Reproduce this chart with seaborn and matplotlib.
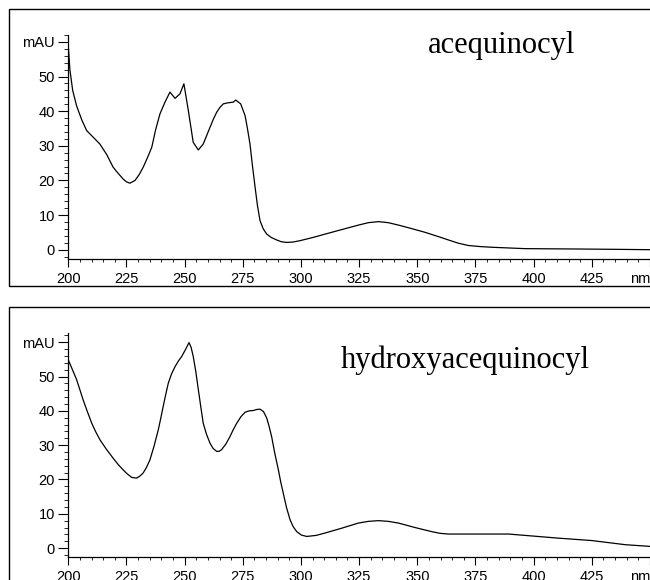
import matplotlib
matplotlib.use("Agg")
import matplotlib.pyplot as plt
import seaborn as sns
from matplotlib.patches import Rectangle
from matplotlib.ticker import MultipleLocator

# ---- data ----
wl_a = [200, 200.7, 201.9, 203.6, 205.8, 207.9, 213.6, 216.5, 219.3, 221.5, 223.6, 225.0,
        226.5, 228.7, 230.5, 232.2, 234.0, 235.9, 237.5, 239.4, 241.5, 243.7, 245.9, 248.0,
        249.7, 251.6, 253.7, 255.9, 258.0, 260.9, 262.3, 263.8, 265.2, 266.6, 268.5, 270.9,
        272.0, 274.1, 276.0, 277.0, 278.1, 279.2, 280.3, 281.3, 282.4, 283.8, 285.3, 287.3,
        289.6, 291.5, 293.9, 296.5, 299.6, 305.0, 310.4, 317.5, 324.7, 329.0, 333.3, 337.5,
        341.9, 347.5, 353.4, 358.5, 363.4, 367.5, 372.0, 377.0, 382.0, 396.3, 417.8, 435.0,
        450.0]
abs_a = [59.0, 52.0, 46.0, 41.5, 37.5, 34.4, 30.5, 27.5, 23.8, 22.0, 20.4, 19.6,
         19.2, 20.0, 21.7, 23.8, 26.5, 29.6, 34.5, 39.2, 42.5, 45.5, 43.7, 45.0,
         47.9, 40.2, 31.0, 28.8, 30.5, 35.3, 37.6, 39.7, 41.1, 42.1, 42.4, 42.6,
         43.2, 42.1, 38.7, 35.0, 30.5, 24.0, 18.0, 12.8, 8.4, 6.0, 4.5, 3.5,
         2.8, 2.3, 2.1, 2.2, 2.6, 3.5, 4.5, 5.8, 7.1, 7.8, 8.1, 7.8,
         7.1, 6.1, 5.0, 3.9, 2.8, 1.9, 1.2, 0.9, 0.7, 0.3, 0.2, 0.1,
         0.0]

wl_h = [200, 201.8, 203.6, 206.4, 208.2, 210.1, 211.8, 213.6, 216.4, 219.3, 221.4, 223.6,
        225.4, 227.3, 229.4, 230.8, 232.2, 233.6, 235.1, 236.9, 238.7, 239.8, 240.8, 241.9,
        243.0, 244.4, 245.9, 247.3, 248.8, 250.4, 251.9, 252.8, 253.7, 254.8, 255.9, 257.0,
        258.0, 259.4, 260.9, 262.3, 263.8, 264.8, 265.9, 267.7, 269.5, 270.9, 272.4, 274.2,
        276.0, 277.7, 279.5, 281.0, 282.4, 283.9, 285.3, 286.3, 287.4, 288.8, 290.3, 291.3,
        292.4, 293.8, 295.3, 296.7, 298.2, 300.2, 302.5, 306.5, 310.4, 317.5, 324.7, 329.0,
        333.3, 337.5, 341.9, 349.0, 356.2, 359.8, 363.4, 389.2, 410.7, 425.0, 439.3, 450.0]
abs_h = [54.9, 52.0, 49.1, 43.2, 39.8, 36.4, 33.9, 31.6, 28.8, 26.2, 24.4, 22.8,
         21.6, 20.6, 20.4, 21.0, 21.9, 23.5, 25.7, 29.8, 34.5, 38.0, 41.3, 44.8,
         48.1, 50.8, 52.9, 54.5, 55.9, 57.9, 59.9, 58.5, 55.9, 51.5, 46.2, 41.0,
         36.4, 33.2, 30.6, 29.0, 28.2, 28.2, 28.7, 30.3, 32.5, 34.5, 36.4, 38.3,
         39.6, 40.0, 40.1, 40.4, 40.5, 39.8, 37.9, 35.5, 32.5, 27.5, 22.8, 19.3,
         16.0, 11.8, 8.3, 6.2, 4.8, 3.8, 3.4, 3.7, 4.4, 5.8, 7.3, 7.8,
         8.0, 7.8, 7.3, 6.0, 4.8, 4.3, 4.1, 4.1, 2.9, 2.2, 1.0, 0.5]

x_ticks = [200, 225, 250, 275, 300, 325, 350, 375, 400, 425, 450]
x_labels = ["200", "225", "250", "275", "300", "325", "350", "375", "400", "425", "nm"]
y_ticks = [0, 10, 20, 30, 40, 50, 60]
y_labels = ["0", "10", "20", "30", "40", "50", "mAU"]
names = ["acequinocyl", "hydroxyacequinocyl"]

# ---- style ----
sns.set_style("ticks")
plt.rcParams["font.family"] = ["Liberation Sans", "DejaVu Sans"]

fig = plt.figure(figsize=(6.5, 5.8), dpi=100)

# panel frames
fig.patches.append(Rectangle((0.0143, 0.5069), 1.2, 0.984 - 0.5069, transform=fig.transFigure,
                             fill=False, edgecolor="black", linewidth=1.0))
fig.patches.append(Rectangle((0.0143, -0.2), 1.2, 0.4712 + 0.2, transform=fig.transFigure,
                             fill=False, edgecolor="black", linewidth=1.0))

ax1 = fig.add_axes([0.105, 0.5534, 0.895, 0.3863])
ax2 = fig.add_axes([0.105, 0.0402, 0.895, 0.3851])

panels = [(ax1, wl_a, abs_a, (-2.7, 62.0), 386, 0.92),
          (ax2, wl_h, abs_h, (-2.5, 62.6), 370.5, 0.845)]

for (ax, xs, ys, ylim, tx, ty), name in zip(panels, names):
    sns.lineplot(x=xs, y=ys, ax=ax, color="black", linewidth=0.9, sort=False)
    ax.set_xlim(200, 450)
    ax.set_ylim(*ylim)
    ax.set_facecolor("none")
    sns.despine(ax=ax)
    for s in ("left", "bottom"):
        ax.spines[s].set_linewidth(0.9)
        ax.spines[s].set_color("black")
    ax.set_xticks(x_ticks)
    ax.set_xticklabels(x_labels)
    ax.set_yticks(y_ticks)
    ax.set_yticklabels(y_labels)
    ax.xaxis.set_minor_locator(MultipleLocator(5))
    ax.yaxis.set_minor_locator(MultipleLocator(2))
    ax.tick_params(axis="x", which="major", direction="out", length=5.5, width=0.8,
                   labelsize=10.5, pad=4, colors="black")
    ax.tick_params(axis="x", which="minor", direction="out", length=2.5, width=0.7)
    ax.tick_params(axis="y", which="major", direction="out", length=7, width=0.8,
                   labelsize=10.5, pad=2.5, colors="black")
    ax.tick_params(axis="y", which="minor", direction="out", length=3, width=0.7)
    lbls = ax.get_xticklabels()
    lbls[-1].set_horizontalalignment("right")
    ax.set_xlabel("")
    ax.set_ylabel("")
    ax.text(tx, ty, name, transform=ax.get_xaxis_transform(), ha="center", va="baseline",
            fontsize=22, family=["Liberation Serif", "DejaVu Serif"], color="black")

fig.savefig("out.png", dpi=100, facecolor="white")
